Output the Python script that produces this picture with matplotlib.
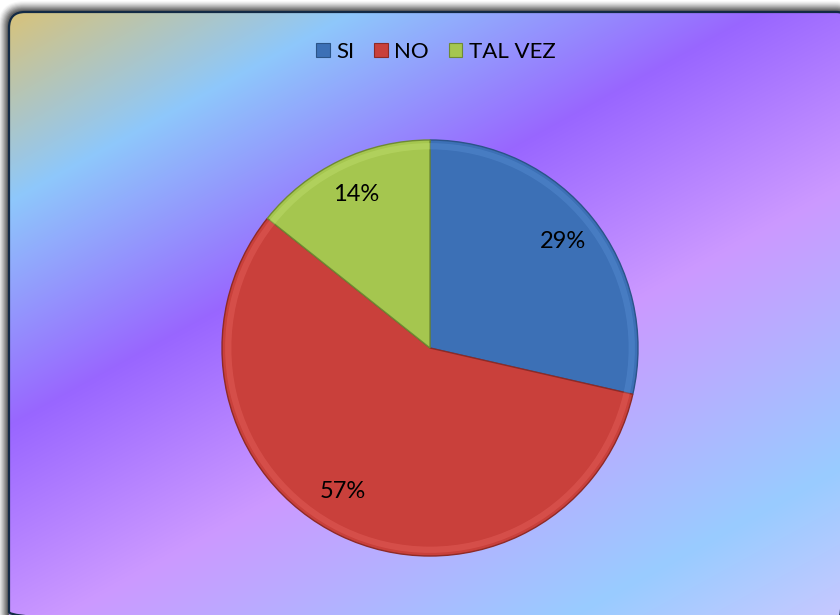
import numpy as np
import matplotlib
matplotlib.use("Agg")
import matplotlib.pyplot as plt
from matplotlib.patches import FancyBboxPatch, Patch, Wedge
from matplotlib.colors import to_rgb

plt.rcParams['font.family'] = ['Lato', 'DejaVu Sans']

categories = ["SI", "NO", "TAL VEZ"]
values = [2, 4, 1]
colors = ["#3C70B6", "#C9403B", "#A5C64F"]
edge_colors = ["#2B5488", "#8E2A26", "#6E8A33"]
light_colors = ["#5A90D6", "#E86560", "#C3E070"]

W, H = 840, 615
fig = plt.figure(figsize=(W / 100, H / 100), dpi=100)
fig.patch.set_facecolor("white")

bg = fig.add_axes([0, 0, 1, 1])
bg.set_xlim(0, W)
bg.set_ylim(H, 0)
bg.axis("off")

x0, y0, x1, y1 = 9, 12, 852, 628
rad = 16

for i, a in enumerate(np.linspace(0.16, 0.03, 9)):
    d = 1.1 * (i + 1)
    sh = FancyBboxPatch((x0 - d - 1, y0 - d - 1), (x1 - x0) + 2 * d, (y1 - y0) + 2 * d,
                        boxstyle=f"round,pad=0,rounding_size={rad + d}",
                        facecolor="black", edgecolor="none", alpha=a, zorder=0)
    bg.add_patch(sh)

stops_u = [0, 205, 430, 650, 930, 1080]
stops_c = ["#DFC26E", "#8EC8FB", "#9966FF", "#CC99FF", "#99CCFF", "#C8C8FF"]
yy, xx = np.mgrid[0:H, 0:W]
u = 0.55 * xx + yy
img = np.zeros((H, W, 3))
rgb = np.array([to_rgb(c) for c in stops_c])
for k in range(3):
    img[..., k] = np.interp(u, stops_u, rgb[:, k])
frame = FancyBboxPatch((x0, y0), x1 - x0, y1 - y0,
                       boxstyle=f"round,pad=0,rounding_size={rad}",
                       facecolor="none", edgecolor="none", zorder=1)
bg.add_patch(frame)
im = bg.imshow(img, extent=[0, W, H, 0], zorder=1, interpolation="bilinear")
im.set_clip_path(frame)
border = FancyBboxPatch((x0, y0), x1 - x0, y1 - y0,
                        boxstyle=f"round,pad=0,rounding_size={rad}",
                        facecolor="none", edgecolor="#132A45", linewidth=1.6, zorder=2)
bg.add_patch(border)
bg.set_xlim(0, W)
bg.set_ylim(H, 0)

cx, cy, r = 430, 348, 208
ax = fig.add_axes([(cx - r) / W, (H - cy - r) / H, 2 * r / W, 2 * r / H])
wedges, texts, autotexts = ax.pie(values, colors=colors, startangle=90, counterclock=False,
                                  autopct=lambda p: f"{p:.0f}%", pctdistance=0.82,
                                  wedgeprops=dict(linewidth=1.0),
                                  textprops=dict(fontsize=17, color="black"))
for w, ec, lc in zip(wedges, edge_colors, light_colors):
    w.set_edgecolor(ec)
    hl = Wedge(w.center, w.r * 0.985, w.theta1, w.theta2, width=0.03,
               facecolor=lc, edgecolor="none", alpha=0.4, zorder=w.get_zorder() + 0.1)
    ax.add_patch(hl)
autotexts[1].set_position((-0.418, -0.692))
ax.set_xlim(-1.0, 1.0)
ax.set_ylim(-1.0, 1.0)
ax.set_aspect("equal")
ax.axis("off")

handles = [Patch(facecolor=c, edgecolor=ec, linewidth=0.8) for c, ec in zip(colors, edge_colors)]
fig.legend(handles, categories, loc="center", bbox_to_anchor=(436 / W, 1 - 52 / H), ncol=3,
           frameon=False, fontsize=16, handlelength=0.6, handleheight=0.6,
           handletextpad=0.3, columnspacing=0.9, borderpad=0)

fig.savefig("out.png", dpi=100)
